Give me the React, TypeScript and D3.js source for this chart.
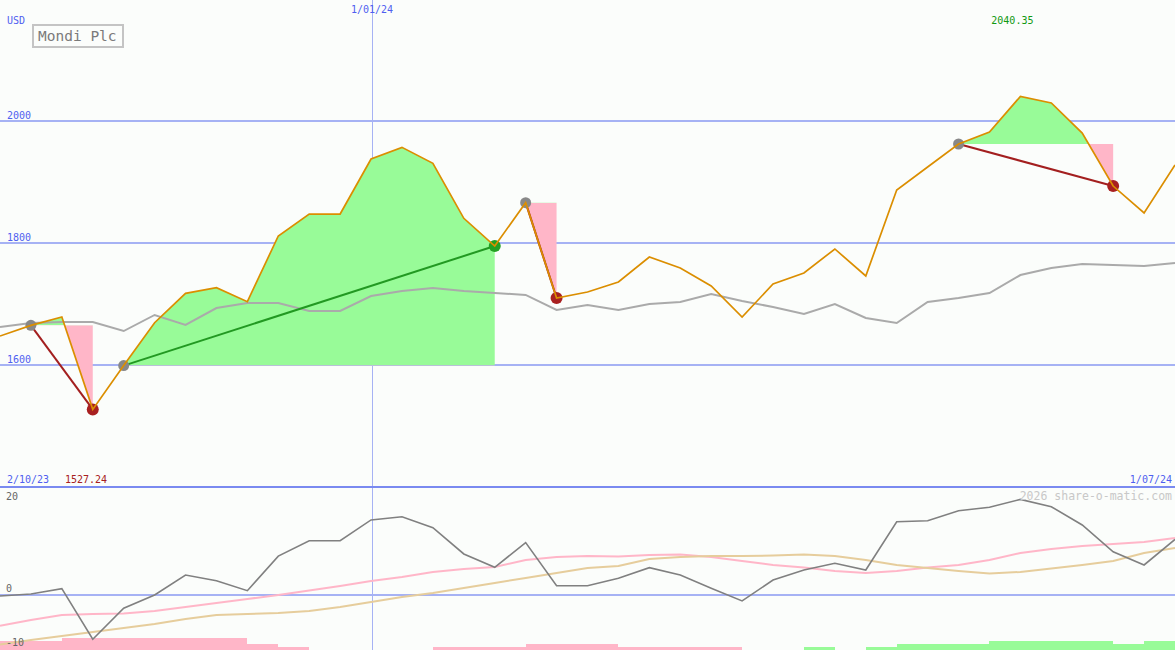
import React from 'react';
import * as d3 from 'd3';

// ---- DATA ----
const title = 'Mondi Plc';
const currency = 'USD';
const startLabel = '2/10/23';
const endLabel = '1/07/24';
const midLabel = '1/01/24';
const midIndex = 12.03;

const price = [
  1647.5, 1665, 1678.7, 1527.24, 1599, 1669.3, 1717.5, 1726.7, 1703.8, 1811.5,
  1847.5, 1847.5, 1937.7, 1956.8, 1930.6, 1840.5, 1795, 1866.1, 1709.8, 1719.7,
  1736.1, 1777, 1759, 1729.5, 1678.7, 1732.8, 1750.8, 1790.2, 1745.9, 1886.9,
  1924.6, 1962.3, 1982, 2040.35, 2029.5, 1980.3, 1893.4, 1849.2, 1927.9,
];

const average = [
  1662.3, 1668.9, 1670.5, 1670.5, 1655.7, 1682, 1665.6, 1693.4, 1701.6, 1701.6,
  1688.5, 1688.5, 1713.1, 1721.3, 1726.2, 1721.3, 1718, 1714.8, 1690.2, 1698.4,
  1690.2, 1700, 1703.3, 1716.4, 1704.9, 1695.1, 1683.6, 1700, 1677, 1668.9,
  1703.3, 1709.8, 1718, 1747.5, 1759, 1765.6, 1763.9, 1762.3, 1767.2,
];

const signals = [
  { start: 1, end: 3 },
  { start: 4, end: 16 },
  { start: 17, end: 18 },
  { start: 31, end: 36 },
];

const priceTicks = [1600, 1800, 2000];

const momentum = [
  -0.19, 0.19, 1.17, -8.2, -2.46, 0, 3.7, 2.65, 0.8, 7.2,
  10.06, 10.06, 13.9, 14.5, 12.46, 7.6, 5.13, 9.7, 1.72, 1.72,
  3.1, 5.06, 3.7, 1.24, -1.1, 2.78, 4.63, 5.87, 4.63, 13.57,
  13.76, 15.6, 16.24, 17.7, 16.35, 12.96, 8.0, 5.56, 10.3,
];

const slowLine = [
  -5.69, -4.63, -3.7, -3.52, -3.43, -2.96, -2.22, -1.48, -0.74, 0,
  0.83, 1.67, 2.59, 3.33, 4.26, 4.81, 5.19, 6.48, 7.04, 7.22,
  7.13, 7.41, 7.5, 7.04, 6.3, 5.56, 5.09, 4.44, 4.07, 4.44,
  5.09, 5.56, 6.48, 7.78, 8.52, 9.07, 9.44, 9.81, 10.56,
];

const signalLine = [
  -9.17, -8.33, -7.59, -6.85, -6.11, -5.37, -4.44, -3.7, -3.52, -3.33,
  -2.96, -2.22, -1.3, -0.37, 0.37, 1.3, 2.22, 3.15, 4.07, 5.0,
  5.37, 6.67, 7.04, 7.22, 7.22, 7.31, 7.5, 7.22, 6.48, 5.56,
  5.0, 4.44, 3.98, 4.26, 4.91, 5.56, 6.3, 7.78, 8.7,
];

const lowerTicks = [20, 0, -10];

const bars = [
  -3, -3, -4, -4, -4, -4, -4, -4, -2, -1,
  0, 0, 0, 0, -1, -1, -1, -2, -2, -2,
  -1, -1, -1, -1, 0, 0, 1, 0, 1, 2,
  2, 2, 3, 3, 3, 3, 2, 3,
];

// ---- CHART ----
const W = 1175;
const H = 650;
const FONT = '"DejaVu Sans Mono", "Liberation Mono", monospace';
const BLUE_TEXT = '#4f5ff0';
const GRID = '#a6b2f4';

export default function App() {
  const n = price.length;
  const x = d3.scaleLinear().domain([0, n - 1]).range([0, W]);
  const y = d3.scaleLinear().domain([1600, 2000]).range([365, 121]);
  const yl = d3.scaleLinear().domain([-10, 20]).range([649, 487]);
  const yb = d3.scaleLinear().domain([0, 4]).range([650, 638]);

  const line = (arr: number[], ys: d3.ScaleLinear<number, number>) =>
    d3.line<number>().x((_, i) => x(i)).y((d) => ys(d))(arr) || '';

  const maxIdx = d3.maxIndex(price);
  const minIdx = d3.minIndex(price);
  const vx = Math.round(x(midIndex)) + 0.5;

  return (
    <svg
      width={W}
      height={H}
      style={{ position: 'absolute', left: 0, top: 0, background: '#fbfdfb' }}
      fontFamily={FONT}
    >
      <rect x={0} y={0} width={W} height={H} fill="#fbfdfb" />
      <defs>
        {signals.map((s, k) => {
          const lv = y(price[s.start]);
          return (
            <React.Fragment key={k}>
              <clipPath id={`up${k}`}>
                <rect x={0} y={0} width={W} height={lv} />
              </clipPath>
              <clipPath id={`dn${k}`}>
                <rect x={0} y={lv} width={W} height={487 - lv} />
              </clipPath>
            </React.Fragment>
          );
        })}
      </defs>

      {/* upper grid */}
      {priceTicks.map((t) => (
        <g key={t}>
          <line x1={0} x2={W} y1={y(t)} y2={y(t)} stroke={GRID} strokeWidth={2} shapeRendering="crispEdges" />
          <text x={7} y={y(t) - 2.5} fontSize={10} fill={BLUE_TEXT}>{t}</text>
        </g>
      ))}
      <line x1={vx} x2={vx} y1={0} y2={H} stroke={GRID} strokeWidth={1} />

      {/* fills */}
      {signals.map((s, k) => {
        const idx = d3.range(s.start, s.end + 1);
        const lv = y(price[s.start]);
        const a = d3.area<number>().x((i) => x(i)).y0(lv).y1((i) => y(price[i]))(idx) || '';
        return (
          <g key={k}>
            <path d={a} fill="#98fb98" clipPath={`url(#up${k})`} />
            <path d={a} fill="#ffb6c8" clipPath={`url(#dn${k})`} />
          </g>
        );
      })}

      {/* moving average */}
      <path d={line(average, y)} fill="none" stroke="#aaaaaa" strokeWidth={2} />

      {/* signal connectors */}
      {signals.map((s, k) => {
        const gain = price[s.end] > price[s.start];
        return (
          <line
            key={k}
            x1={x(s.start)}
            y1={y(price[s.start])}
            x2={x(s.end)}
            y2={y(price[s.end])}
            stroke={gain ? '#229922' : '#a31f1f'}
            strokeWidth={2}
          />
        );
      })}
      {signals.map((s, k) => {
        const gain = price[s.end] > price[s.start];
        return (
          <g key={k}>
            <circle cx={x(s.start)} cy={y(price[s.start])} r={5.5} fill="#888888" />
            <circle cx={x(s.end)} cy={y(price[s.end])} r={6} fill={gain ? '#22a022' : '#a82020'} />
          </g>
        );
      })}

      {/* price */}
      <path d={line(price, y)} fill="none" stroke="#db8e00" strokeWidth={1.7} />

      {/* labels upper */}
      <text x={7} y={24} fontSize={10} fill={BLUE_TEXT}>{currency}</text>
      <rect x={33} y={25} width={90} height={22} fill="#fbfdfb" stroke="#c4c4c4" strokeWidth={2} />
      <text x={38} y={41} fontSize={14.5} fill="#7a7a7a">{title}</text>
      <text x={x(midIndex)} y={13} fontSize={10} fill={BLUE_TEXT} textAnchor="middle">{midLabel}</text>
      <text x={x(maxIdx) - 8} y={24} fontSize={10} fill="#119911" textAnchor="middle">
        {price[maxIdx].toFixed(2)}
      </text>
      <text x={7} y={483} fontSize={10} fill={BLUE_TEXT}>{startLabel}</text>
      <text x={65} y={483} fontSize={10} fill="#a82020">{price[minIdx].toFixed(2)}</text>
      <text x={1172} y={483} fontSize={10} fill={BLUE_TEXT} textAnchor="end">{endLabel}</text>

      {/* separator */}
      <line x1={0} x2={W} y1={487} y2={487} stroke="#7a8af0" strokeWidth={2} shapeRendering="crispEdges" />

      {/* lower panel */}
      <line x1={0} x2={W} y1={yl(0)} y2={yl(0)} stroke={GRID} strokeWidth={2} shapeRendering="crispEdges" />
      {bars.map((b, i) =>
        b === 0 ? null : (
          <rect
            key={i}
            x={x(i)}
            width={x(i + 1) - x(i)}
            y={yb(Math.abs(b))}
            height={650 - yb(Math.abs(b))}
            fill={b > 0 ? '#98fb98' : '#ffb6c8'}
            shapeRendering="crispEdges"
          />
        )
      )}
      <path d={line(slowLine, yl)} fill="none" stroke="#ffb6c8" strokeWidth={2} />
      <path d={line(signalLine, yl)} fill="none" stroke="#e6cd9c" strokeWidth={2} />
      <path d={line(momentum, yl)} fill="none" stroke="#808080" strokeWidth={1.6} />

      {lowerTicks.map((t) => (
        <text key={t} x={6} y={Math.max(500, Math.min(646, yl(t) - 3))} fontSize={10} fill="#666666">
          {t}
        </text>
      ))}
      <text x={1172} y={500} fontSize={11.5} fill="#c8c8c8" textAnchor="end">2026 share-o-matic.com</text>
    </svg>
  );
}
